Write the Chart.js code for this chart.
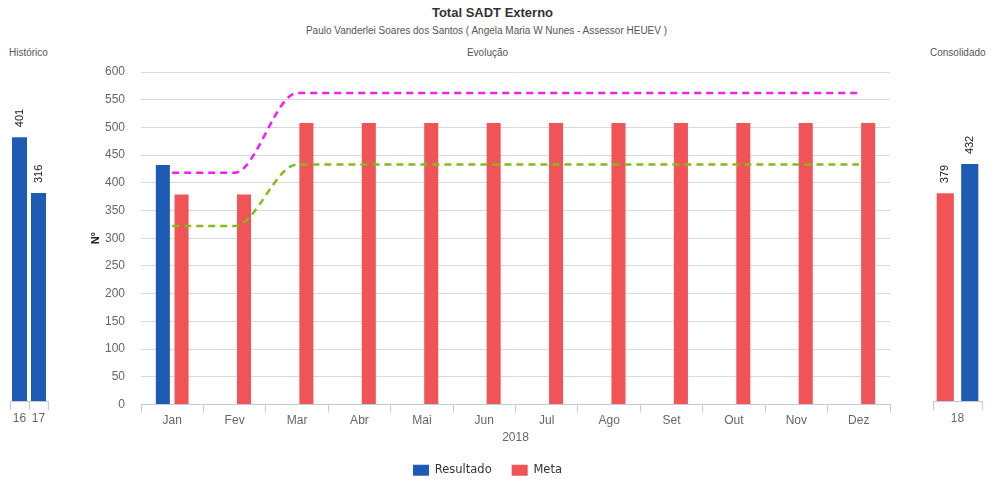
<!DOCTYPE html>
<html>
<head>
<meta charset="utf-8">
<script src="https://cdn.jsdelivr.net/npm/chart.js@4.4.1/dist/chart.umd.min.js"></script>
<style>
  body { margin: 0; background: #fff; font-family: "Liberation Sans", Arial, sans-serif; }
  #wrap { position: relative; width: 1000px; height: 500px; overflow: hidden; }
  canvas { position: absolute; }
  .lbl { position: absolute; color: #555; white-space: nowrap; }
</style>
</head>
<body>
<div id="wrap">
  <div class="lbl" style="left:0;width:985px;top:5px;text-align:center;font-size:13px;font-weight:bold;color:#333;">Total SADT Externo</div>
  <div class="lbl" style="left:0;width:973px;top:25px;text-align:center;font-size:10px;">Paulo Vanderlei Soares dos Santos ( Angela Maria W Nunes - Assessor HEUEV )</div>
  <div class="lbl" style="left:9px;top:47px;font-size:10px;">Histórico</div>
  <div class="lbl" style="left:0;width:975px;top:47px;text-align:center;font-size:10px;">Evolução</div>
  <div class="lbl" style="left:930px;top:47px;font-size:10px;">Consolidado</div>
  <canvas id="mainChart" width="985" height="500" style="left:0;top:0;"></canvas>
  <canvas id="histChart" width="60" height="430" style="left:0;top:60px;"></canvas>
  <canvas id="consChart" width="75" height="430" style="left:925px;top:60px;"></canvas>
</div>
<script>
const months = ['Jan', 'Fev', 'Mar', 'Abr', 'Mai', 'Jun', 'Jul', 'Ago', 'Set', 'Out', 'Nov', 'Dez'];
const resultado = [432, null, null, null, null, null, null, null, null, null, null, null];
const meta = [379, 379, 508, 508, 508, 508, 508, 508, 508, 508, 508, 508];
const limiteSuperior = [418, 418, 562, 562, 562, 562, 562, 562, 562, 562, 562, 562];
const limiteInferior = [322, 322, 433, 433, 433, 433, 433, 433, 433, 433, 433, 433];
const yTicks = [0, 50, 100, 150, 200, 250, 300, 350, 400, 450, 500, 550, 600];

const histLabels = ['16', '17'];
const histResultado = [401, 316];

const consLabels = ['18'];
const consMeta = [379];
const consResultado = [432];

const blue = '#1d5bb5';
const red = '#f05457';
const axisColor = '#c3cbd8';
const tickFont = { family: 'Liberation Sans', size: 12 };

// valores girados acima das barras (gráficos laterais)
const barValues = {
    id: 'barValues',
    afterDatasetsDraw(chart) {
        const ctx = chart.ctx;
        chart.data.datasets.forEach((ds, i) => {
            chart.getDatasetMeta(i).data.forEach((bar, j) => {
                ctx.save();
                ctx.translate(bar.x, bar.y - 10);
                ctx.rotate(-Math.PI / 2);
                ctx.font = '11px "Liberation Sans"';
                ctx.fillStyle = '#222';
                ctx.textAlign = 'left';
                ctx.textBaseline = 'middle';
                ctx.fillText(ds.data[j], 0, 0);
                ctx.restore();
            });
        });
    }
};

new Chart(document.getElementById('mainChart').getContext('2d'), {
    type: 'bar',
    data: {
        labels: months,
        datasets: [
            {
                type: 'line',
                label: 'Limite Superior',
                data: limiteSuperior,
                borderColor: '#f01ff0',
                borderWidth: 2.5,
                borderDash: [7, 5],
                pointRadius: 0,
                fill: false,
                cubicInterpolationMode: 'monotone'
            },
            {
                type: 'line',
                label: 'Limite Inferior',
                data: limiteInferior,
                borderColor: '#84bc18',
                borderWidth: 2.5,
                borderDash: [7, 5],
                pointRadius: 0,
                fill: false,
                cubicInterpolationMode: 'monotone'
            },
            {
                label: 'Resultado',
                data: resultado,
                backgroundColor: blue,
                categoryPercentage: 0.6,
                barPercentage: 0.75
            },
            {
                label: 'Meta',
                data: meta,
                backgroundColor: red,
                categoryPercentage: 0.6,
                barPercentage: 0.75
            }
        ]
    },
    options: {
        responsive: false,
        animation: false,
        layout: { padding: { left: 85, right: 95, top: 72, bottom: 14 } },
        plugins: {
            tooltip: { enabled: false },
            legend: {
                position: 'bottom',
                labels: {
                    filter: item => item.text === 'Resultado' || item.text === 'Meta',
                    boxWidth: 16,
                    boxHeight: 11,
                    padding: 20,
                    color: '#333',
                    font: { family: 'DejaVu Sans', size: 11.5 }
                }
            }
        },
        scales: {
            x: {
                afterFit: scale => { scale.height = 40; },
                grid: { offset: true, drawOnChartArea: false, color: axisColor, tickLength: 8 },
                border: { color: axisColor },
                ticks: { color: '#666', font: tickFont, padding: 1 },
                title: { display: true, text: '2018', color: '#666', font: tickFont, padding: { top: 4, bottom: 0 } }
            },
            y: {
                min: 0,
                max: 600,
                afterFit: scale => { scale.width = 56; },
                afterBuildTicks: scale => { scale.ticks = yTicks.map(v => ({ value: v })); },
                grid: { color: '#d9d9d9', drawTicks: false },
                border: { display: false },
                ticks: { color: '#666', font: tickFont, padding: 16 },
                title: { display: true, text: 'Nº', color: '#222', font: { family: 'Liberation Sans', size: 11, weight: 'bold' } }
            }
        }
    }
});

function sideOptions(max, padLeft, padRight) {
    return {
        responsive: false,
        animation: false,
        layout: { padding: { left: padLeft, right: padRight, top: 12, bottom: 59 } },
        plugins: { legend: { display: false }, tooltip: { enabled: false } },
        scales: {
            x: {
                afterFit: scale => { scale.height = 30; },
                grid: { offset: true, drawOnChartArea: false, color: axisColor, tickLength: 9 },
                border: { color: axisColor },
                ticks: { color: '#666', font: tickFont, padding: 1, autoSkip: false, minRotation: 0, maxRotation: 0 }
            },
            y: { display: false, min: 0, max: max }
        }
    };
}

new Chart(document.getElementById('histChart').getContext('2d'), {
    type: 'bar',
    data: {
        labels: histLabels,
        datasets: [{
            label: 'Resultado',
            data: histResultado,
            backgroundColor: blue,
            categoryPercentage: 1,
            barPercentage: 0.79
        }]
    },
    options: sideOptions(500, 10, 12),
    plugins: [barValues]
});

new Chart(document.getElementById('consChart').getContext('2d'), {
    type: 'bar',
    data: {
        labels: consLabels,
        datasets: [
            { label: 'Meta', data: consMeta, backgroundColor: red, categoryPercentage: 1, barPercentage: 0.7 },
            { label: 'Resultado', data: consResultado, backgroundColor: blue, categoryPercentage: 1, barPercentage: 0.7 }
        ]
    },
    options: sideOptions(600, 8, 18),
    plugins: [barValues]
});
</script>
</body>
</html>
